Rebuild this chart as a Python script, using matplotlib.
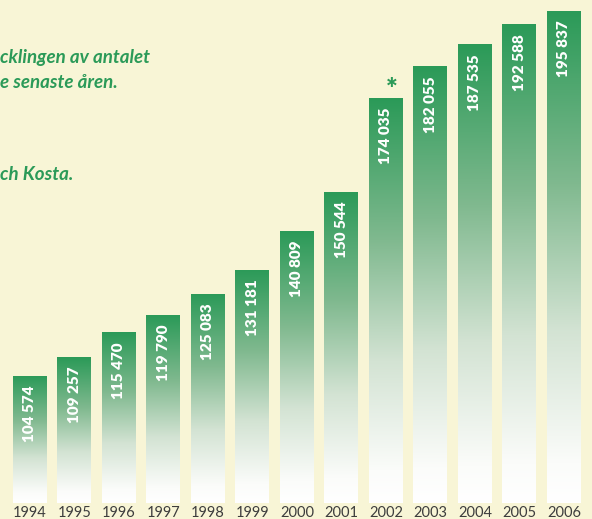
import numpy as np
import matplotlib.pyplot as plt
from matplotlib.colors import LinearSegmentedColormap

years = ['1994', '1995', '1996', '1997', '1998', '1999', '2000',
         '2001', '2002', '2003', '2004', '2005', '2006']
visitors = [104574, 109257, 115470, 119790, 125083, 131181, 140809,
            150544, 174035, 182055, 187535, 192588, 195837]
marked_year = '2002'

bg = '#f8f5d6'
green = '#2b9a58'
base = 72800

plt.rcParams['font.family'] = ['Lato', 'DejaVu Sans']

cmap = LinearSegmentedColormap.from_list(
    'fade', [(0.0, '#ffffff'), (0.08, '#fbfcfa'), (0.35, '#d3e3d3'),
             (0.65, '#80b98f'), (1.0, green)])
grad = np.linspace(0, 1, 256).reshape(-1, 1)

fig = plt.figure(figsize=(5.92, 5.19), dpi=100, facecolor=bg)
ax = fig.add_axes([0, 16 / 519, 1, 503 / 519])
ax.set_facecolor(bg)
ax.axis('off')

x = np.arange(len(years))
w = 0.764
bars = ax.bar(x, visitors, width=w, color='none', edgecolor='none')

for b, v, yr in zip(bars, visitors, years):
    x0 = b.get_x()
    im = ax.imshow(grad, cmap=cmap, origin='lower', aspect='auto',
                   extent=(x0, x0 + w, base, v), zorder=2)
    im.set_clip_path(b)
    ax.annotate(f'{v:,}'.replace(',', ' '), xy=(x0 + w / 2, v),
                xytext=(0, -7), textcoords='offset points',
                rotation=90, ha='center', va='top', color='white',
                fontsize=11, fontweight='heavy', zorder=3)
    ax.annotate(yr, xy=(x0 + w / 2, base), xytext=(0, -2),
                textcoords='offset points', ha='center', va='top',
                color='#3d3d3d', fontsize=10.5, annotation_clip=False)
    if yr == marked_year:
        ax.annotate('*', xy=(x0 + w / 2, v), xytext=(4, 0),
                    textcoords='offset points', ha='center',
                    va='baseline', color=green, fontsize=20,
                    fontweight='heavy')

ax.set_xlim(-0.674, 12.63)
ax.set_ylim(base, 198600)

txt = dict(color=green, fontsize=13.5, fontweight='bold', style='italic',
           ha='left', va='center')
fig.text(0.0, 1 - 57 / 519, 'cklingen av antalet', **txt)
fig.text(0.0, 1 - 83 / 519, 'e senaste åren.', **txt)
fig.text(0.0, 1 - 175 / 519, 'ch Kosta.', **txt)

fig.savefig('out.png', dpi=100, facecolor=bg)
